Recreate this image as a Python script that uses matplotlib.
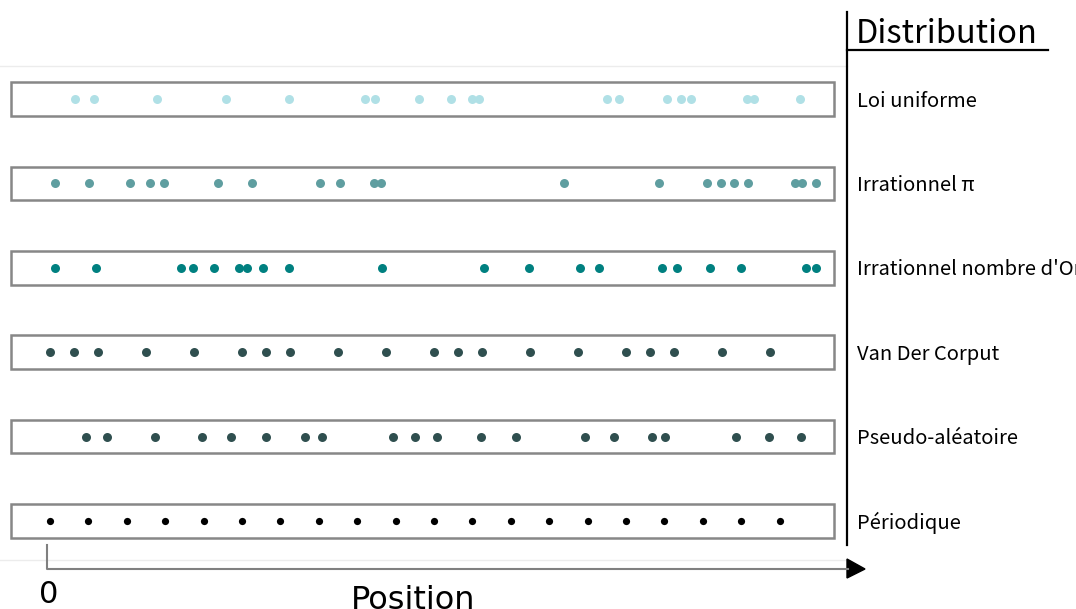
import matplotlib
matplotlib.use('Agg')
import matplotlib.pyplot as plt
from matplotlib.patches import Rectangle, Polygon
from matplotlib.lines import Line2D

# row labels, bottom to top
labels = ['Périodique', 'Pseudo-aléatoire', 'Van Der Corput',
          "Irrationnel nombre d'Or", 'Irrationnel π', 'Loi uniforme']
colors = ['black', '#2f4f4f', '#2f4f4f', '#008080', '#5f9ea0', '#b0e0e6']
sizes = [27, 42, 42, 42, 42, 42]

periodique = [0.0, 0.05, 0.10, 0.15, 0.20, 0.25, 0.30, 0.35, 0.40, 0.45,
              0.50, 0.55, 0.60, 0.65, 0.70, 0.75, 0.80, 0.85, 0.90, 0.95]
pseudo = [0.047, 0.074, 0.137, 0.198, 0.236, 0.281, 0.332, 0.354, 0.447, 0.475,
          0.504, 0.561, 0.607, 0.697, 0.734, 0.784, 0.801, 0.893, 0.936, 0.978]
van_der_corput = [0.0, 0.03125, 0.0625, 0.125, 0.1875, 0.25, 0.28125, 0.3125,
                  0.375, 0.4375, 0.5, 0.53125, 0.5625, 0.625, 0.6875, 0.75,
                  0.78125, 0.8125, 0.875, 0.9375]
nombre_or = [0.0065, 0.060, 0.171, 0.186, 0.214, 0.246, 0.257, 0.277, 0.311, 0.432,
             0.565, 0.624, 0.690, 0.715, 0.797, 0.816, 0.859, 0.900, 0.984, 0.997]
irr_pi = [0.0065, 0.051, 0.104, 0.130, 0.148, 0.219, 0.263, 0.352, 0.378, 0.422,
          0.431, 0.669, 0.793, 0.855, 0.874, 0.891, 0.909, 0.970, 0.979, 0.997]
uniforme = [0.033, 0.057, 0.139, 0.229, 0.311, 0.410, 0.423, 0.480, 0.522, 0.549,
            0.559, 0.725, 0.741, 0.803, 0.822, 0.835, 0.908, 0.917, 0.977]

series = [periodique, pseudo, van_der_corput, nombre_or, irr_pi, uniforme]

fig = plt.figure(figsize=(10.76, 6.09), dpi=100)
ax = fig.add_axes([0, 0.0805, 0.7872, 0.8111])
ax.set_xlim(-0.0651, 1.0378)
ax.set_ylim(-0.462, 5.391)
ax.set_xticks([])
ax.set_yticks([])
for s in ['left', 'right']:
    ax.spines[s].set_visible(False)
for s in ['top', 'bottom']:
    ax.spines[s].set_color('#ececec')
    ax.spines[s].set_linewidth(1)

for i, (vals, col, sz, lab) in enumerate(zip(series, colors, sizes, labels)):
    ax.add_patch(Rectangle((-0.0508, i - 0.2), 1.0716, 0.4, fill=False,
                           edgecolor='#878787', linewidth=1.8, zorder=1))
    ax.scatter(vals, [i] * len(vals), s=sz, color=col, linewidths=0, zorder=2)
    ax.annotate(lab, xy=(1, i), xycoords=('axes fraction', 'data'),
                xytext=(7, -5.5), textcoords='offset points', va='baseline',
                ha='left', fontsize=14.5, family=['Noto Sans CJK JP', 'DejaVu Sans'],
                annotation_clip=False)

# legend-like header on the right
fig.add_artist(Line2D([0.7872, 0.7872], [0.9803, 0.1051], color='black', linewidth=1.6))
fig.add_artist(Line2D([0.7872, 0.974], [0.9179, 0.9179], color='black', linewidth=1.6))
fig.text(0.7955, 0.9294, 'Distribution', fontsize=23.5, va='baseline', ha='left',
         family=['Noto Sans CJK JP', 'DejaVu Sans'])

# position arrow
fig.add_artist(Line2D([0.0437, 0.0437, 0.788], [0.1051, 0.0657, 0.0657],
                      color='#808080', linewidth=1.5))
fig.add_artist(Polygon([[847 / 1076, 1 - 559 / 609], [847 / 1076, 1 - 578 / 609],
                        [865 / 1076, 1 - 569 / 609]], closed=True, color='black'))
fig.text(0.0455, 0.0099, '0', fontsize=22, ha='center', va='baseline')
fig.text(0.3838, 0.0, 'Position', fontsize=23, ha='center', va='baseline')

fig.savefig('out.png', dpi=100)
